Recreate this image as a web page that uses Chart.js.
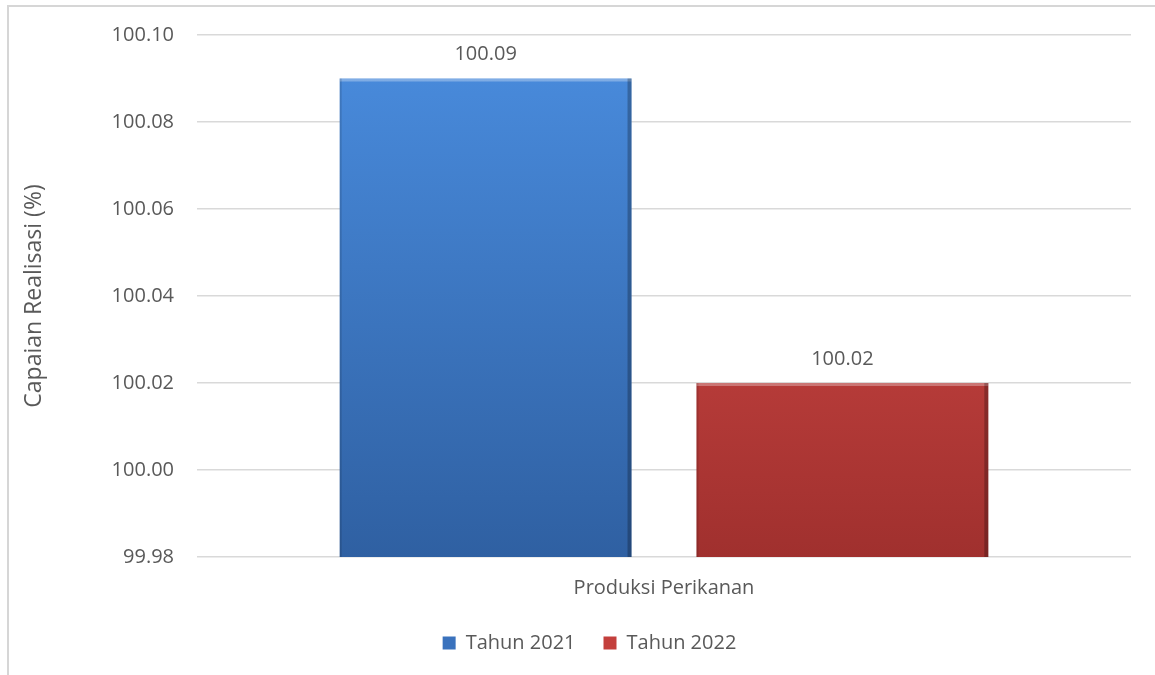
<!DOCTYPE html>
<html>
<head>
<meta charset="utf-8">
<script src="https://cdn.jsdelivr.net/npm/chart.js@4"></script>
<style>
    html, body { margin: 0; padding: 0; background: #fff; overflow: hidden; }
    canvas { display: block; }
</style>
</head>
<body>
<canvas id="chart" width="1155" height="675"></canvas>
<script>
const categories = ['Produksi Perikanan'];
const seriesNames = ['Tahun 2021', 'Tahun 2022'];
const values2021 = [100.09];
const values2022 = [100.02];
const yMin = 99.98;
const yMax = 100.10;
const yStep = 0.02;

const textColor = '#595959';
const fontFamily = '"Open Sans", Lato, sans-serif';

// vertical gradient per bar, like the office bevel fill
function barGradient(top, bottom) {
    return (ctx) => {
        const area = ctx.chart.chartArea;
        if (!area) return bottom;
        const g = ctx.chart.ctx.createLinearGradient(0, area.top, 0, area.bottom);
        g.addColorStop(0, top);
        g.addColorStop(1, bottom);
        return g;
    };
}

// frame, value above each bar and a light bevel on the edges
const barExtras = {
    id: 'barExtras',
    afterLayout(chart) {
        // legend in the original sits a bit right of the canvas centre
        chart.legend.left += 24;
        chart.legend.right += 24;
    },
    beforeDraw(chart) {
        const ctx = chart.ctx;
        ctx.save();
        ctx.strokeStyle = '#d6d6d6';
        ctx.lineWidth = 2;
        ctx.beginPath();
        ctx.moveTo(8, chart.height);
        ctx.lineTo(8, 6);
        ctx.lineTo(chart.width, 6);
        ctx.stroke();
        ctx.restore();
    },
    afterDatasetsDraw(chart) {
        const ctx = chart.ctx;
        const area = chart.chartArea;
        chart.data.datasets.forEach((ds, i) => {
            chart.getDatasetMeta(i).data.forEach((bar, j) => {
                const left = bar.x - bar.width / 2;
                const right = bar.x + bar.width / 2;
                const top = bar.y;
                const bottom = Math.min(bar.base, area.bottom);
                ctx.save();
                ctx.fillStyle = 'rgba(255,255,255,0.3)';
                ctx.fillRect(left, top, right - left, 3);
                ctx.fillStyle = 'rgba(0,0,0,0.25)';
                ctx.fillRect(right - 4, top, 4, bottom - top);
                ctx.fillStyle = 'rgba(0,0,0,0.12)';
                ctx.fillRect(left, top, 2, bottom - top);
                ctx.fillStyle = textColor;
                ctx.font = '20px ' + fontFamily;
                ctx.textAlign = 'center';
                ctx.textBaseline = 'middle';
                ctx.fillText(ds.data[j].toFixed(2), bar.x, top - 24);
                ctx.restore();
            });
        });
    }
};

new Chart(document.getElementById('chart').getContext('2d'), {
    type: 'bar',
    data: {
        labels: categories,
        datasets: [{
            label: seriesNames[0],
            data: values2021,
            backgroundColor: barGradient('#4a8ddf', '#2f60a2'),
            legendColor: '#3a72bd'
        }, {
            label: seriesNames[1],
            data: values2022,
            backgroundColor: barGradient('#e0504d', '#a0302e'),
            legendColor: '#c33f3c'
        }]
    },
    plugins: [barExtras],
    options: {
        responsive: false,
        animation: false,
        layout: { padding: { top: 35, right: 24, bottom: 12, left: 0 } },
        datasets: {
            bar: { categoryPercentage: 0.764, barPercentage: 0.818 }
        },
        plugins: {
            tooltip: { enabled: false },
            legend: {
                position: 'bottom',
                labels: {
                    color: textColor,
                    font: { family: fontFamily, size: 20 },
                    boxWidth: 13,
                    boxHeight: 13,
                    padding: 28,
                    generateLabels: (chart) => chart.data.datasets.map((ds, i) => ({
                        text: ds.label,
                        fillStyle: ds.legendColor,
                        strokeStyle: ds.legendColor,
                        lineWidth: 0,
                        fontColor: textColor,
                        datasetIndex: i
                    }))
                }
            }
        },
        scales: {
            x: {
                grid: { display: false },
                border: { display: false },
                ticks: { color: textColor, font: { family: fontFamily, size: 20 }, padding: 11 },
                afterFit: (scale) => { scale.height = 48; }
            },
            y: {
                min: yMin,
                max: yMax,
                grid: { color: '#d9d9d9', lineWidth: 1.5, drawTicks: false },
                border: { display: false },
                ticks: {
                    stepSize: yStep,
                    color: textColor,
                    font: { family: fontFamily, size: 20 },
                    padding: 23,
                    callback: (v) => Number(v).toFixed(2)
                },
                title: {
                    display: true,
                    text: 'Capaian Realisasi (%)',
                    color: textColor,
                    font: { family: fontFamily, size: 23 },
                    padding: { top: 21, bottom: 0 }
                },
                afterFit: (scale) => { scale.width = 197; }
            }
        }
    }
});
</script>
</body>
</html>
